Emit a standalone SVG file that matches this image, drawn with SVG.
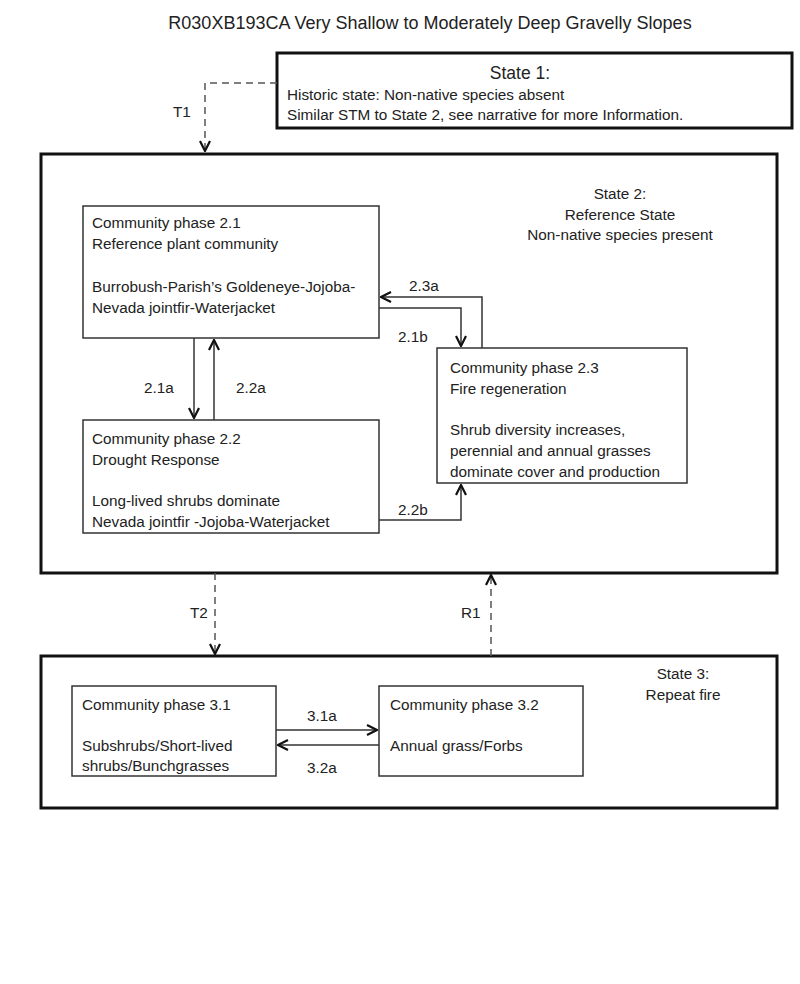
<svg xmlns="http://www.w3.org/2000/svg" width="800" height="984" viewBox="0 0 800 984">
<style>
text{font-family:"Liberation Sans",Arial,sans-serif;fill:#222;font-size:15.3px}
.title{font-size:18px}
.st{fill:#fff;stroke:#111;stroke-width:3}
.cp{fill:#fff;stroke:#333;stroke-width:1.5}
.ln{fill:none;stroke:#333;stroke-width:1.5}
.ds{fill:none;stroke:#555;stroke-width:1.5;stroke-dasharray:7,5}
.mid{text-anchor:middle}
</style>
<defs>
<marker id="ah" viewBox="0 0 12 12" refX="11" refY="6" markerWidth="12" markerHeight="12" markerUnits="userSpaceOnUse" orient="auto">
<path d="M1,1 L11,6 L1,11" fill="none" stroke="#111" stroke-width="2.2"/>
</marker>
</defs>
<rect width="800" height="984" fill="#fff"/>
<text class="title mid" x="430" y="29">R030XB193CA Very Shallow to Moderately Deep Gravelly Slopes</text>

<g id="state1">
<rect class="st" x="277" y="53" width="515" height="75"/>
<text class="mid" x="520" y="79" style="font-size:17.5px">State 1:</text>
<text x="287" y="100">Historic state: Non-native species absent</text>
<text x="287" y="120">Similar STM to State 2, see narrative for more Information.</text>
</g>

<g id="state2">
<rect class="st" x="41" y="154" width="736" height="419"/>
<text class="mid" x="620" y="199">State 2:</text>
<text class="mid" x="620" y="220">Reference State</text>
<text class="mid" x="620" y="240">Non-native species present</text>
</g>

<g id="state3">
<rect class="st" x="41" y="656" width="736" height="152"/>
<text class="mid" x="683" y="679">State 3:</text>
<text class="mid" x="683" y="700">Repeat fire</text>
</g>

<g id="cp21">
<rect class="cp" x="83" y="206" width="296" height="132"/>
<text x="92" y="228">Community phase 2.1</text>
<text x="92" y="249">Reference plant community</text>
<text x="92" y="292">Burrobush-Parish’s Goldeneye-Jojoba-</text>
<text x="92" y="313">Nevada jointfir-Waterjacket</text>
</g>

<g id="cp22">
<rect class="cp" x="83" y="420" width="296" height="113"/>
<text x="92" y="444">Community phase 2.2</text>
<text x="92" y="465">Drought Response</text>
<text x="92" y="506">Long-lived shrubs dominate</text>
<text x="92" y="527">Nevada jointfir -Jojoba-Waterjacket</text>
</g>

<g id="cp23">
<rect class="cp" x="437" y="348" width="250" height="135"/>
<text x="450" y="373">Community phase 2.3</text>
<text x="450" y="394">Fire regeneration</text>
<text x="450" y="435">Shrub diversity increases,</text>
<text x="450" y="456">perennial and annual grasses</text>
<text x="450" y="477">dominate cover and production</text>
</g>

<g id="cp31">
<rect class="cp" x="72" y="686" width="204" height="90"/>
<text x="82" y="710">Community phase 3.1</text>
<text x="82" y="751">Subshrubs/Short-lived</text>
<text x="82" y="771">shrubs/Bunchgrasses</text>
</g>

<g id="cp32">
<rect class="cp" x="379" y="686" width="204" height="90"/>
<text x="390" y="710">Community phase 3.2</text>
<text x="390" y="751">Annual grass/Forbs</text>
</g>

<g id="connectors">
<path class="ds" d="M277,83 H205 V151" marker-end="url(#ah)"/>
<text x="173" y="117">T1</text>
<path class="ln" d="M194,338 V418" marker-end="url(#ah)"/>
<path class="ln" d="M214,420 V340" marker-end="url(#ah)"/>
<text x="144" y="393">2.1a</text>
<text x="236" y="393">2.2a</text>
<path class="ln" d="M482,348 V297 H381" marker-end="url(#ah)"/>
<text x="409" y="291">2.3a</text>
<path class="ln" d="M379,308 H461 V346" marker-end="url(#ah)"/>
<text x="398" y="342">2.1b</text>
<path class="ln" d="M379,520 H461 V485" marker-end="url(#ah)"/>
<text x="398" y="515">2.2b</text>
<path class="ds" d="M215,573 V654" marker-end="url(#ah)"/>
<text x="190" y="618">T2</text>
<path class="ds" d="M491,656 V575" marker-end="url(#ah)"/>
<text x="461" y="618">R1</text>
<path class="ln" d="M276,730 H377" marker-end="url(#ah)"/>
<text x="307" y="721">3.1a</text>
<path class="ln" d="M379,745 H278" marker-end="url(#ah)"/>
<text x="307" y="773">3.2a</text>
</g>
</svg>
